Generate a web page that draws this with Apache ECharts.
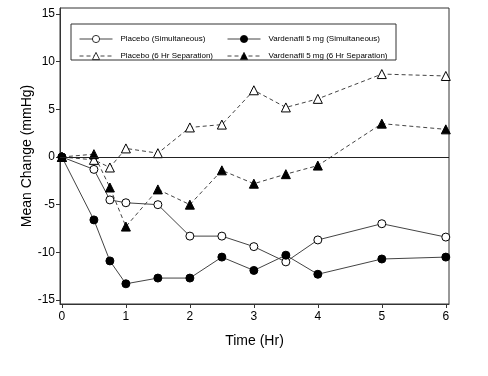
<!DOCTYPE html>
<html>
<head>
<meta charset="utf-8">
<script src="https://cdn.jsdelivr.net/npm/echarts@6/dist/echarts.min.js"></script>
<style>
  html, body { margin: 0; padding: 0; background: #ffffff; }
  #chart { width: 488px; height: 376px; }
</style>
</head>
<body>
<div id="chart"></div>
<script>
// time points (hours)
var times = [0, 0.5, 0.75, 1, 1.5, 2, 2.5, 3, 3.5, 4, 5, 6];
// mean change in blood pressure (mmHg)
var placeboSim = [0, -1.3, -4.5, -4.8, -5.0, -8.3, -8.3, -9.4, -11.0, -8.7, -7.0, -8.4];
var vardSim = [0, -6.6, -10.9, -13.3, -12.7, -12.7, -10.5, -11.9, -10.3, -12.3, -10.7, -10.5];
var placebo6 = [0, -0.3, -1.1, 0.9, 0.4, 3.1, 3.4, 7.0, 5.2, 6.1, 8.7, 8.5];
var vard6 = [0, 0.3, -3.2, -7.3, -3.4, -5.0, -1.4, -2.8, -1.8, -0.9, 3.5, 2.9];
var xTicks = [0, 1, 2, 3, 4, 5, 6];
var yTicks = [-15, -10, -5, 0, 5, 10, 15];

var pairs = function (ys) {
  return times.map(function (t, i) { return [t, ys[i]]; });
};

var ink = "#333";
var font = "Liberation Sans, Arial, sans-serif";

var makeSeries = function (name, ys, symbol, filled, dashed) {
  return {
    name: name,
    type: "line",
    data: pairs(ys),
    symbol: symbol,
    symbolSize: symbol === "circle" ? 8 : 9,
    showSymbol: true,
    animation: false,
    lineStyle: { color: "#444", width: 1, type: dashed ? [4, 3] : "solid" },
    itemStyle: {
      color: filled ? "#000" : "#fff",
      borderColor: "#000",
      borderWidth: 1,
    },
    z: 3,
  };
};

var series = [
  makeSeries("Placebo (Simultaneous)", placeboSim, "circle", false, false),
  makeSeries("Placebo (6 Hr Separation)", placebo6, "triangle", false, true),
  makeSeries("Vardenafil 5 mg (Simultaneous)", vardSim, "circle", true, false),
  makeSeries("Vardenafil 5 mg (6 Hr Separation)", vard6, "triangle", true, true),
];
// zero reference line
series[0].markLine = {
  silent: true,
  symbol: "none",
  label: { show: false },
  lineStyle: { color: "#222", width: 1, type: "solid" },
  data: [{ yAxis: 0 }],
};

var legendText = {
  fontSize: 8, color: "#000", fontFamily: font,
  padding: [0, 0, 0, 3],
};
var legendBase = {
  orient: "vertical",
  top: 30,
  itemWidth: 33, itemHeight: 9, itemGap: 9,
  textStyle: legendText,
  lineStyle: { width: 1 },
  itemStyle: { borderWidth: 0.8 },
  selectedMode: false,
};

var chart = echarts.init(document.getElementById("chart"));
chart.setOption({
  backgroundColor: "#ffffff",
  animation: false,
  grid: {
    left: 60, right: 39, top: 8, bottom: 72,
    show: true, borderColor: ink, borderWidth: 1,
  },
  legend: [
    Object.assign({}, legendBase, {
      data: ["Placebo (Simultaneous)", "Placebo (6 Hr Separation)"],
      left: 74,
    }),
    Object.assign({}, legendBase, {
      data: ["Vardenafil 5 mg (Simultaneous)", "Vardenafil 5 mg (6 Hr Separation)"],
      left: 222,
    }),
  ],
  graphic: [
    {
      type: "rect",
      shape: { x: 71, y: 24, width: 325, height: 36 },
      style: { fill: "none", stroke: ink, lineWidth: 1 },
      z: 10,
    },
  ],
  xAxis: {
    type: "value",
    min: -0.03, max: 6.05,
    name: "Time (Hr)",
    nameLocation: "middle",
    nameGap: 30,
    nameTextStyle: { fontSize: 14, color: "#000", fontFamily: font },
    splitLine: { show: false },
    axisLine: { show: true, onZero: false, lineStyle: { color: ink } },
    axisTick: { show: true, customValues: xTicks, length: 4, lineStyle: { color: ink } },
    axisLabel: { customValues: xTicks, fontSize: 12, color: "#000", fontFamily: font, margin: 7 },
  },
  yAxis: {
    type: "value",
    min: -15.42, max: 15.63,
    name: "Mean Change (mmHg)",
    nameLocation: "middle",
    nameGap: 26,
    nameMoveOverlap: false,
    nameTextStyle: { fontSize: 14, color: "#000", fontFamily: font },
    splitLine: { show: false },
    axisLine: { show: true, onZero: false, lineStyle: { color: ink } },
    axisTick: { show: true, customValues: yTicks, length: 4, lineStyle: { color: ink } },
    axisLabel: { customValues: yTicks, fontSize: 12, color: "#000", fontFamily: font, margin: 5 },
  },
  series: series,
});
</script>
</body>
</html>
